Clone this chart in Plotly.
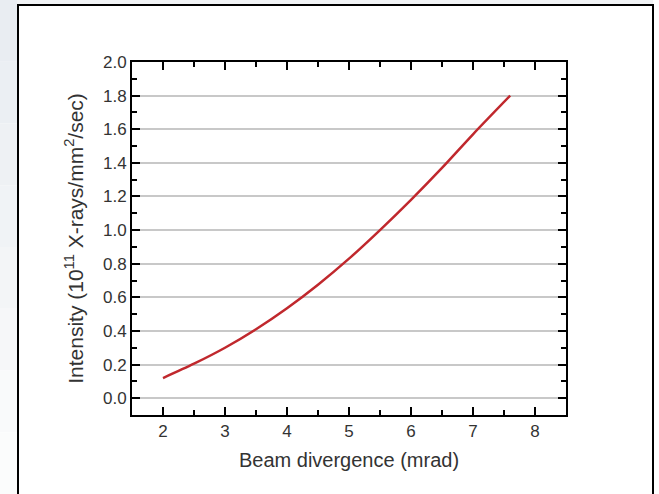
import plotly.graph_objects as go

# Data
divergence_mrad = [2.0, 2.5, 3.0, 3.5, 4.0, 4.5, 5.0, 5.5, 6.0, 6.5, 7.0, 7.6]
intensity = [0.12, 0.205, 0.30, 0.41, 0.535, 0.675, 0.83, 1.00, 1.18, 1.37, 1.57, 1.80]

x_ticks = [2, 3, 4, 5, 6, 7, 8]
y_ticks = [0.0, 0.2, 0.4, 0.6, 0.8, 1.0, 1.2, 1.4, 1.6, 1.8, 2.0]

W, H = 659, 494
L, R, T, B = 132, 566, 62, 415
pw, ph = R - L, B - T


def px(x):
    return (x - L) / pw


def py(y):
    return (B - y) / ph


fig = go.Figure()
fig.add_trace(go.Scatter(
    x=divergence_mrad, y=intensity, mode="lines",
    line=dict(color="#c0282d", width=2.5, shape="spline", smoothing=0.8),
    showlegend=False, hoverinfo="skip",
))

font = "Liberation Sans, Arial, sans-serif"
axis_common = dict(
    showline=True, linecolor="black", linewidth=2, mirror="allticks",
    ticks="inside", ticklen=8, tickwidth=2, tickcolor="black",
    tickfont=dict(family=font, size=17, color="#333333"),
    zeroline=False,
)

fig.update_xaxes(
    range=[1.5, 8.5], tickvals=x_ticks, showgrid=False,
    minor=dict(dtick=0.5, ticks="inside", ticklen=5, tickwidth=2, tickcolor="black", showgrid=False),
    title=dict(text="Beam divergence (mrad)", font=dict(family=font, size=20, color="#333333"), standoff=13),
    **axis_common,
)
fig.update_yaxes(
    range=[-0.1, 2.0], tickvals=y_ticks, tickformat=".1f",
    showgrid=True, gridcolor="#c8c8c8", gridwidth=1.5,
    minor=dict(dtick=0.1, ticks="inside", ticklen=5, tickwidth=2, tickcolor="black", showgrid=False),
    title=dict(text="Intensity (10<sup>11</sup> X-rays/mm<sup>2</sup>/sec)",
               font=dict(family=font, size=21, color="#333333"), standoff=14),
    **axis_common,
)

# soft light backdrop on the left edge, fading downwards
band_colors = ["#e9edf2", "#ebeff3", "#eef1f4", "#f0f3f6", "#f3f5f7", "#f6f7f9", "#f9fafb", "#fbfcfc"]
shapes = []
band_h = 494 / len(band_colors)
for i, c in enumerate(band_colors):
    shapes.append(dict(type="rect", xref="paper", yref="paper",
                       x0=px(0), x1=px(17), y0=py(i * band_h), y1=py((i + 1) * band_h),
                       fillcolor=c, line=dict(width=0), layer="below"))
shapes.append(dict(type="rect", xref="paper", yref="paper", x0=px(17), x1=px(653), y0=py(0), y1=py(4),
                   fillcolor="#f1f3f5", line=dict(width=0), layer="below"))
# outer frame
shapes.append(dict(type="rect", xref="paper", yref="paper", x0=px(18), x1=px(653), y0=py(500), y1=py(5),
                   line=dict(color="black", width=2), fillcolor="rgba(0,0,0,0)", layer="below"))

fig.update_layout(
    width=W, height=H,
    margin=dict(l=L, r=W - R, t=T, b=H - B),
    paper_bgcolor="white", plot_bgcolor="white",
    shapes=shapes,
    font=dict(family=font),
)

fig.write_html("out.html")
